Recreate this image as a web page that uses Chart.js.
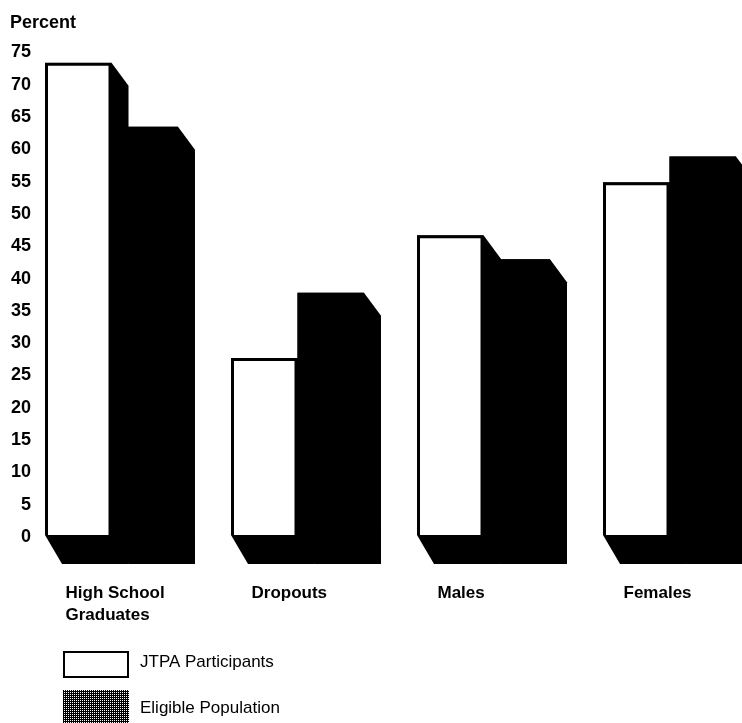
<!DOCTYPE html>
<html>
<head>
<meta charset="utf-8">
<script src="https://cdn.jsdelivr.net/npm/chart.js@4/dist/chart.umd.min.js"></script>
<style>
  html, body { margin: 0; padding: 0; background: #fff; overflow: hidden; }
  #wrap { width: 742px; height: 723px; overflow: hidden; position: relative; }
  #c { display: block; }
</style>
</head>
<body>
<div id="wrap"><canvas id="c" width="800" height="723"></canvas></div>
<script>
// Share of each group, in percent
const categories = [['High School', 'Graduates'], 'Dropouts', 'Males', 'Females'];
const jtpaParticipants = [73.1, 27.4, 46.4, 54.6];
const eligiblePopulation = [63.2, 37.5, 42.7, 58.6];
const seriesNames = ['JTPA Participants', 'Eligible Population'];
const yMin = 0, yMax = 75, yStep = 5;
const yTitle = 'Percent';

const FONT = '"Liberation Sans", Arial, Helvetica, sans-serif';

// Dotted fill used for the eligible-population legend swatch
function dotPattern(ctx) {
  const t = document.createElement('canvas');
  t.width = 2; t.height = 2;
  const g = t.getContext('2d');
  g.fillStyle = '#000'; g.fillRect(0, 0, 2, 2);
  g.fillStyle = '#fff'; g.fillRect(0, 0, 1, 1);
  return ctx.createPattern(t, 'repeat');
}

// Extruded depth behind every bar: side face and floor shadow
const depthPlugin = {
  id: 'depth',
  beforeDatasetsDraw(chart) {
    const ctx = chart.ctx;
    const dx = 17, dyTop = 23, dyBot = 29;
    ctx.save();
    ctx.fillStyle = '#000';
    chart.data.datasets.forEach((ds, di) => {
      const meta = chart.getDatasetMeta(di);
      meta.data.forEach(bar => {
        const p = bar.getProps(['x', 'y', 'base', 'width'], true);
        const l = p.x - p.width / 2, r = p.x + p.width / 2;
        ctx.beginPath();
        ctx.moveTo(l, p.y);
        ctx.lineTo(r, p.y);
        ctx.lineTo(r + dx, p.y + dyTop);
        ctx.lineTo(r + dx, p.base + dyBot);
        ctx.lineTo(l + dx, p.base + dyBot);
        ctx.lineTo(l, p.base);
        ctx.closePath();
        ctx.fill();
      });
    });
    ctx.restore();
  }
};

// Axis caption and the stacked legend under the plot
const captionLegendPlugin = {
  id: 'captionLegend',
  afterDraw(chart) {
    const ctx = chart.ctx;
    ctx.save();
    ctx.fillStyle = '#000';
    ctx.font = 'bold 18px ' + FONT;
    ctx.textAlign = 'left';
    ctx.textBaseline = 'alphabetic';
    ctx.fillText(yTitle, 10, 28);

    const bx = 63, bw = 66;
    const rows = [{ y: 651, h: 27, base: 667 }, { y: 690, h: 40, base: 713 }];
    chart.data.datasets.forEach((ds, i) => {
      const r = rows[i];
      if (i === 0) {
        ctx.fillStyle = '#fff';
        ctx.fillRect(bx, r.y, bw, r.h);
        ctx.lineWidth = 2;
        ctx.strokeStyle = '#000';
        ctx.strokeRect(bx + 1, r.y + 1, bw - 2, r.h - 2);
      } else {
        ctx.fillStyle = dotPattern(ctx);
        ctx.fillRect(bx, r.y, bw, r.h);
      }
      ctx.fillStyle = '#000';
      ctx.font = '17px ' + FONT;
      ctx.fillText(ds.label, 140, r.base);
    });
    ctx.restore();
  }
};

new Chart(document.getElementById('c'), {
  type: 'bar',
  data: {
    labels: categories,
    datasets: [
      {
        label: seriesNames[0],
        data: jtpaParticipants,
        backgroundColor: '#fff',
        borderColor: '#000',
        borderWidth: 3,
        borderSkipped: 'start'
      },
      {
        label: seriesNames[1],
        data: eligiblePopulation,
        backgroundColor: '#000',
        borderWidth: 0
      }
    ]
  },
  options: {
    responsive: false,
    animation: false,
    devicePixelRatio: 1,
    layout: { padding: { left: 18.5, right: 37.5, top: 50.5, bottom: 88 } },
    datasets: { bar: { categoryPercentage: 0.715, barPercentage: 1.0 } },
    scales: {
      x: {
        grid: { display: false, drawTicks: false },
        border: { display: false },
        ticks: {
          color: '#000',
          font: { family: FONT, size: 17, weight: 'bold', lineHeight: 1.25 },
          align: 'start',
          labelOffset: -46,
          padding: 48,
          maxRotation: 0,
          autoSkip: false
        },
        afterFit(scale) { scale.height = 100; }
      },
      y: {
        min: yMin,
        max: yMax,
        grid: { display: false, drawTicks: false },
        border: { display: false },
        ticks: {
          stepSize: yStep,
          mirror: true,
          crossAlign: 'far',
          padding: -7.5,
          labelOffset: 2,
          color: '#000',
          font: { family: FONT, size: 18, weight: 'bold' }
        },
        afterFit(scale) { scale.width = 0; }
      }
    },
    plugins: {
      legend: { display: false },
      tooltip: { enabled: false },
      title: { display: false }
    }
  },
  plugins: [depthPlugin, captionLegendPlugin]
});
</script>
</body>
</html>
